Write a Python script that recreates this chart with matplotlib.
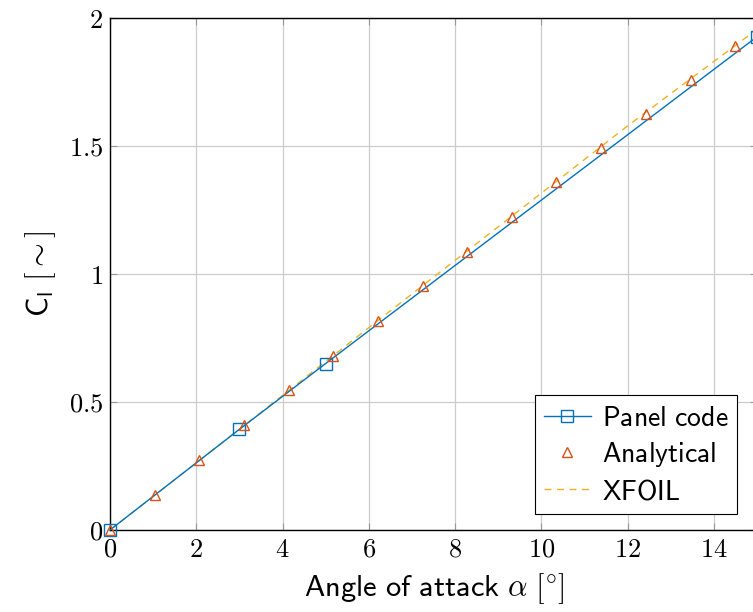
import numpy as np
import matplotlib.pyplot as plt
from matplotlib.ticker import FuncFormatter

plt.rcParams['mathtext.fontset'] = 'cm'

# Panel code
panel_alpha = [0, 3, 5, 15]
panel_cl = [0, 0.393, 0.650, 1.926]

# Analytical
ana_alpha = [0, 1.04, 2.07, 3.11, 4.14, 5.18, 6.21, 7.25, 8.28, 9.32, 10.35, 11.39, 12.42, 13.46, 14.5]
ana_cl = [0, 0.136, 0.272, 0.408, 0.545, 0.681, 0.817, 0.952, 1.087, 1.222, 1.357, 1.490, 1.623, 1.756, 1.888]

# XFOIL
xf_alpha = [0, 3, 6, 9, 12, 15]
xf_cl = [0, 0.393, 0.790, 1.184, 1.578, 1.955]

fig = plt.figure(figsize=(7.53, 6.12), dpi=100)
ax = fig.add_axes([0.146, 0.134, 0.8594, 0.837])

ax.plot(panel_alpha, panel_cl, color='#0072BD', lw=1.0, marker='s', ms=8,
        mfc='none', mec='#0072BD', mew=1.0, label=r'$\mathsf{Panel\ code}$', zorder=3, clip_on=False)
ax.plot(ana_alpha, ana_cl, ls='none', marker='^', ms=7, mfc='none',
        mec='#D95319', mew=1.0, label=r'$\mathsf{Analytical}$', zorder=4, clip_on=False)
ax.plot(xf_alpha, xf_cl, color='#EDB120', lw=1.0, ls=(0, (5, 4)), label=r'$\mathsf{XFOIL}$', zorder=2)

ax.set_xlim(0, 15)
ax.set_ylim(0, 2)
ax.set_xticks([0, 2, 4, 6, 8, 10, 12, 14])
ax.set_yticks([0, 0.5, 1, 1.5, 2])
fmt = FuncFormatter(lambda v, p: '$%g$' % v)
ax.xaxis.set_major_formatter(fmt)
ax.yaxis.set_major_formatter(fmt)
ax.tick_params(direction='in', length=5, width=0.8, labelsize=19, top=True, right=True,
               color='#999999', pad=5)
ax.grid(True, color='#cccccc', lw=0.9)
ax.set_axisbelow(True)
for s in ax.spines.values():
    s.set_linewidth(1.0)

ax.set_xlabel(r'$\mathsf{Angle\ of\ attack}\ \alpha\ \mathsf{[}\!^\circ\!\mathsf{]}$', fontsize=22, labelpad=6)
ax.set_ylabel(r'$\mathsf{C_l\ [\sim]}$', fontsize=22, labelpad=8)

leg = ax.legend(loc='lower right', frameon=True, fancybox=False,
                edgecolor='black', framealpha=1, borderpad=0.3, handlelength=1.7,
                labelspacing=0.3, handletextpad=0.4, prop={'size': 20},
                bbox_to_anchor=(0.99, 0.005))
leg.get_frame().set_linewidth(0.8)

fig.savefig('out.png', dpi=100)
